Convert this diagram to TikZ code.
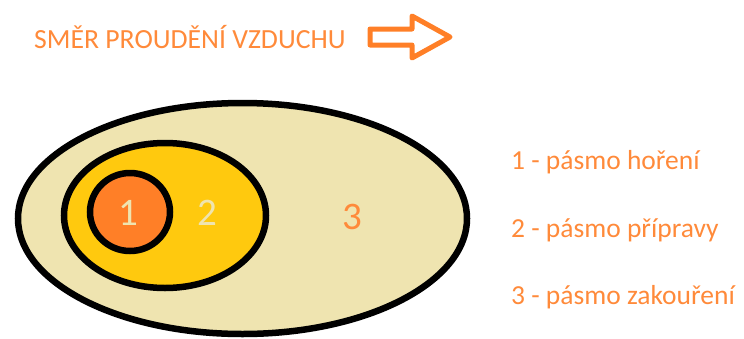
\documentclass[tikz,border=0pt]{standalone}
\usepackage{fontspec}
\setmainfont{Carlito}
\usetikzlibrary{shapes.geometric}
\definecolor{zoneOrange}{HTML}{FF7F27}
\definecolor{textOrange}{HTML}{FF8A3A}
\definecolor{zoneGold}{HTML}{FFC90E}
\definecolor{zoneTan}{HTML}{EFE4B0}
\tikzset{
  zone/.style={draw=black, line width=6.5pt, ellipse, inner sep=0pt},
  bignum/.style={font=\fontsize{39}{41}\selectfont, inner sep=0pt},
  legend/.style={text=textOrange, font=\fontsize{27.5}{30}\selectfont, anchor=west, inner sep=0pt},
}
\begin{document}
\begin{tikzpicture}[x=1pt, y=-1pt]
  \useasboundingbox (0,0) rectangle (744,338);
  % nested zones
  \node[zone, fill=zoneTan, minimum width=449pt, minimum height=231pt] (z3) at (242.5,218.5) {};
  \node[zone, fill=zoneGold, minimum width=202pt, minimum height=145pt] (z2) at (165,215.5) {};
  \node[zone, fill=zoneOrange, minimum width=80pt, minimum height=78pt] (z1) at (130,212) {};
  % zone numbers
  \node[bignum, text=zoneTan] (n1) at (128,213) {1};
  \node[bignum, text=zoneTan] (n2) at (207,213) {2};
  \node[bignum, text=textOrange] (n3) at (352,217) {3};
  % legend
  \node[legend] (l1) at (511,162) {1 - pásmo hoření};
  \node[legend] (l2) at (511,230) {2 - pásmo přípravy};
  \node[legend] (l3) at (511,297) {3 - pásmo zakouření};
  % airflow direction
  \node[text=textOrange, font=\fontsize{27.7}{30}\selectfont, anchor=west, inner sep=0pt] (title) at (34,37) {SMĚR PROUDĚNÍ VZDUCHU};
  \draw[zoneOrange, line width=5pt, line join=round]
    (370,29) -- (412,29) -- (412,16) -- (450,37) -- (412,58) -- (412,45) -- (370,45) -- cycle;
\end{tikzpicture}
\end{document}
